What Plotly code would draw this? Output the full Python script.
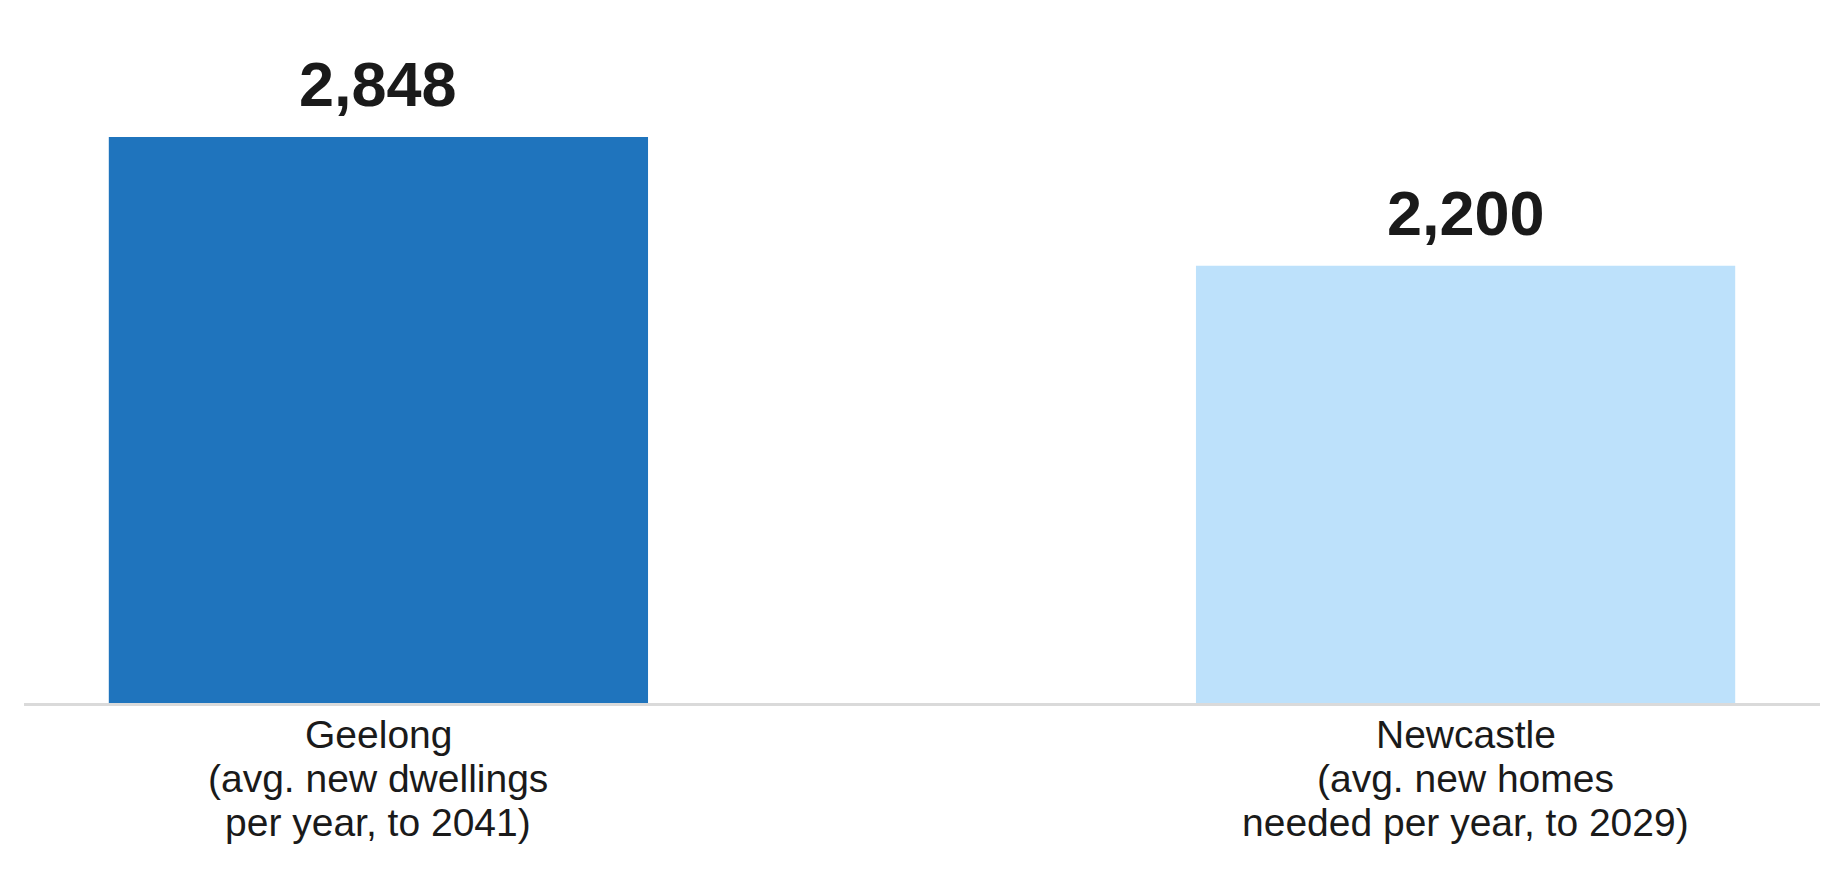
import plotly.graph_objects as go

categories = ["Geelong", "Newcastle"]
category_notes = [
    ["(avg. new dwellings", "per year, to 2041)"],
    ["(avg. new homes", "needed per year, to 2029)"],
]
values = [2848, 2200]
value_labels = ["2,848", "2,200"]
bar_colors = ["#1f74bd", "#bde1fb"]

FONT = "Liberation Sans, Arial, sans-serif"
TEXT_COLOR = "#1a1a1a"

fig = go.Figure()
fig.add_trace(
    go.Bar(
        x=[0, 1],
        y=values,
        marker=dict(color=bar_colors, line=dict(width=0)),
        width=0.496,
        hoverinfo="skip",
    )
)

# big bold numbers above the bars
for i, (v, lbl) in enumerate(zip(values, value_labels)):
    fig.add_annotation(
        x=i,
        y=v,
        xref="x",
        yref="y",
        text="<b>%s</b>" % lbl,
        showarrow=False,
        yanchor="bottom",
        yshift=16,
        font=dict(family=FONT, size=63, color=TEXT_COLOR),
    )

# category labels under the axis, one annotation per line so the
# line spacing can be kept tight like in the original
for i, name in enumerate(categories):
    lines = [name] + category_notes[i]
    for k, line in enumerate(lines):
        fig.add_annotation(
            x=i,
            y=0,
            xref="x",
            yref="paper",
            text=line,
            showarrow=False,
            yanchor="middle",
            yshift=-31 - 44 * k,
            font=dict(family=FONT, size=39, color=TEXT_COLOR),
        )

fig.update_xaxes(
    range=[-0.326, 1.326],
    showticklabels=False,
    showgrid=False,
    zeroline=False,
    showline=True,
    linecolor="#dadada",
    linewidth=3,
    ticks="",
)
fig.update_yaxes(
    range=[0, 3336],
    showgrid=False,
    zeroline=False,
    showticklabels=False,
    showline=False,
)
fig.update_layout(
    width=1843,
    height=870,
    margin=dict(l=16, r=31, t=32, b=175),
    plot_bgcolor="white",
    paper_bgcolor="white",
    showlegend=False,
)

fig.write_html("out.html")
